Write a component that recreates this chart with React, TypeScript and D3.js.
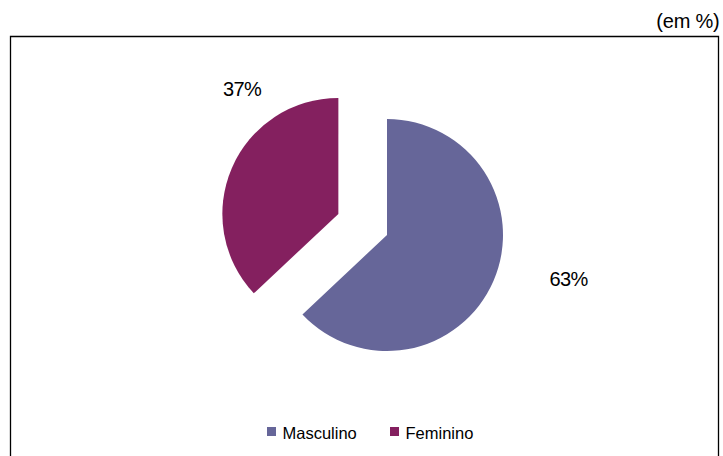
import React from "react";
import * as d3 from "d3";

const categories = ["Masculino", "Feminino"];
const values = [63, 37];
const colors = ["#666699", "#84205F"];
const exploded = [false, true];
const unitLabel = "(em %)";

const W = 723;
const H = 456;
const cx = 387;
const cy = 235;
const R = 116;
const explodeDist = 53;
// label anchor points (text centre x, baseline y)
const labelPos = [
  [568.5, 286],
  [242, 96],
];

export default function App() {
  const pie = d3
    .pie<number>()
    .sort(null)
    .value((d) => d)
    .startAngle(0)
    .endAngle(2 * Math.PI);
  const arcs = pie(values);
  const arc = d3.arc<d3.PieArcDatum<number>>().innerRadius(0).outerRadius(R);
  const font = "'Liberation Sans', Arial, sans-serif";

  return (
    <svg
      width={W}
      height={H}
      style={{ position: "absolute", left: 0, top: 0, background: "#fff" }}
    >
      <rect x={0} y={0} width={W} height={H} fill="#fff" />
      <path
        d={`M10.5,${H + 5} V36.5 H718.5 V${H + 5}`}
        fill="none"
        stroke="#000"
        strokeWidth={1.3}
      />
      <text
        x={719.5}
        y={28}
        textAnchor="end"
        fontFamily={font}
        fontSize={20}
        letterSpacing={-0.2}
        fill="#000"
      >
        {unitLabel}
      </text>
      {arcs.map((a, i) => {
        const mid = (a.startAngle + a.endAngle) / 2;
        const dx = exploded[i] ? Math.sin(mid) * explodeDist : 0;
        const dy = exploded[i] ? -Math.cos(mid) * explodeDist : 0;
        return (
          <path
            key={categories[i]}
            d={arc(a) || ""}
            transform={`translate(${cx + dx},${cy + dy})`}
            fill={colors[i]}
          />
        );
      })}
      {values.map((v, i) => (
        <text
          key={"l" + i}
          x={labelPos[i][0]}
          y={labelPos[i][1]}
          textAnchor="middle"
          fontFamily={font}
          fontSize={20}
          letterSpacing={-0.6}
          fill="#000"
        >
          {`${v}%`}
        </text>
      ))}
      {categories.map((c, i) => {
        const lx = [267, 390][i];
        return (
          <g key={"lg" + i}>
            <rect x={lx} y={427} width={9} height={9} fill={colors[i]} />
            <text
              x={lx + 15.5}
              y={438.5}
              fontFamily={font}
              fontSize={16.5}
              fill="#000"
            >
              {c}
            </text>
          </g>
        );
      })}
    </svg>
  );
}
